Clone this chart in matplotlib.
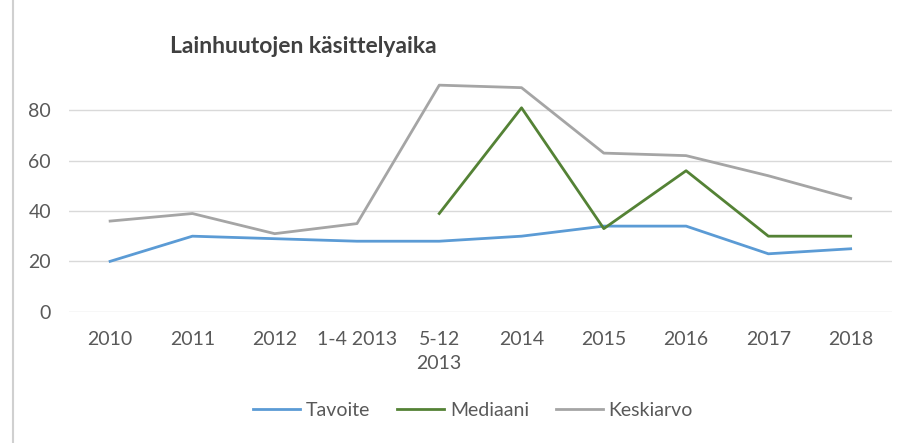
import matplotlib.pyplot as plt
import numpy as np

categories = ["2010", "2011", "2012", "1-4 2013", "5-12\n2013", "2014", "2015", "2016", "2017", "2018"]
tavoite = [20, 30, 29, 28, 28, 30, 34, 34, 23, 25]
mediaani = [np.nan, np.nan, np.nan, np.nan, 39, 81, 33, 56, 30, 30]
keskiarvo = [36, 39, 31, 35, 90, 89, 63, 62, 54, 45]

plt.rcParams['font.family'] = ['Lato', 'DejaVu Sans']

fig = plt.figure(figsize=(9.10, 4.43), dpi=100)
ax = fig.add_axes([0.0758, 0.2964, 0.9042, 0.5682])

x = np.arange(len(categories))
ax.plot(x, tavoite, color='#5B9BD5', lw=2, label='Tavoite')
ax.plot(x, mediaani, color='#548235', lw=2, label='Mediaani')
ax.plot(x, keskiarvo, color='#A5A5A5', lw=2, label='Keskiarvo')

ax.set_xlim(-0.5, len(categories) - 0.5)
ax.set_ylim(0, 100)
ax.set_yticks([0, 20, 40, 60, 80])
ax.set_xticks(x)
ax.set_xticklabels(categories, linespacing=1.5)
ax.grid(axis='y', color='#D9D9D9', lw=1)
ax.set_axisbelow(True)
for s in ax.spines.values():
    s.set_visible(False)
ax.tick_params(length=0, labelsize=14, colors='#595959', pad=14)
ax.tick_params(axis='y', pad=13)

fig.text(0.187, 0.88, "Lainhuutojen käsittelyaika", fontsize=16.5, fontweight='bold', color='#404040')

fig.legend(loc='center', bbox_to_anchor=(0.52, 0.073), ncol=3, frameon=False, fontsize=14,
           handlelength=2.4, columnspacing=1.4, handletextpad=0.3, labelcolor='#595959')

# chart border on the left edge
fig.add_artist(plt.Line2D([0.0143, 0.0143], [0, 1], color='#D0D0D0', lw=1.5, transform=fig.transFigure))

fig.savefig("out.png", dpi=100)
